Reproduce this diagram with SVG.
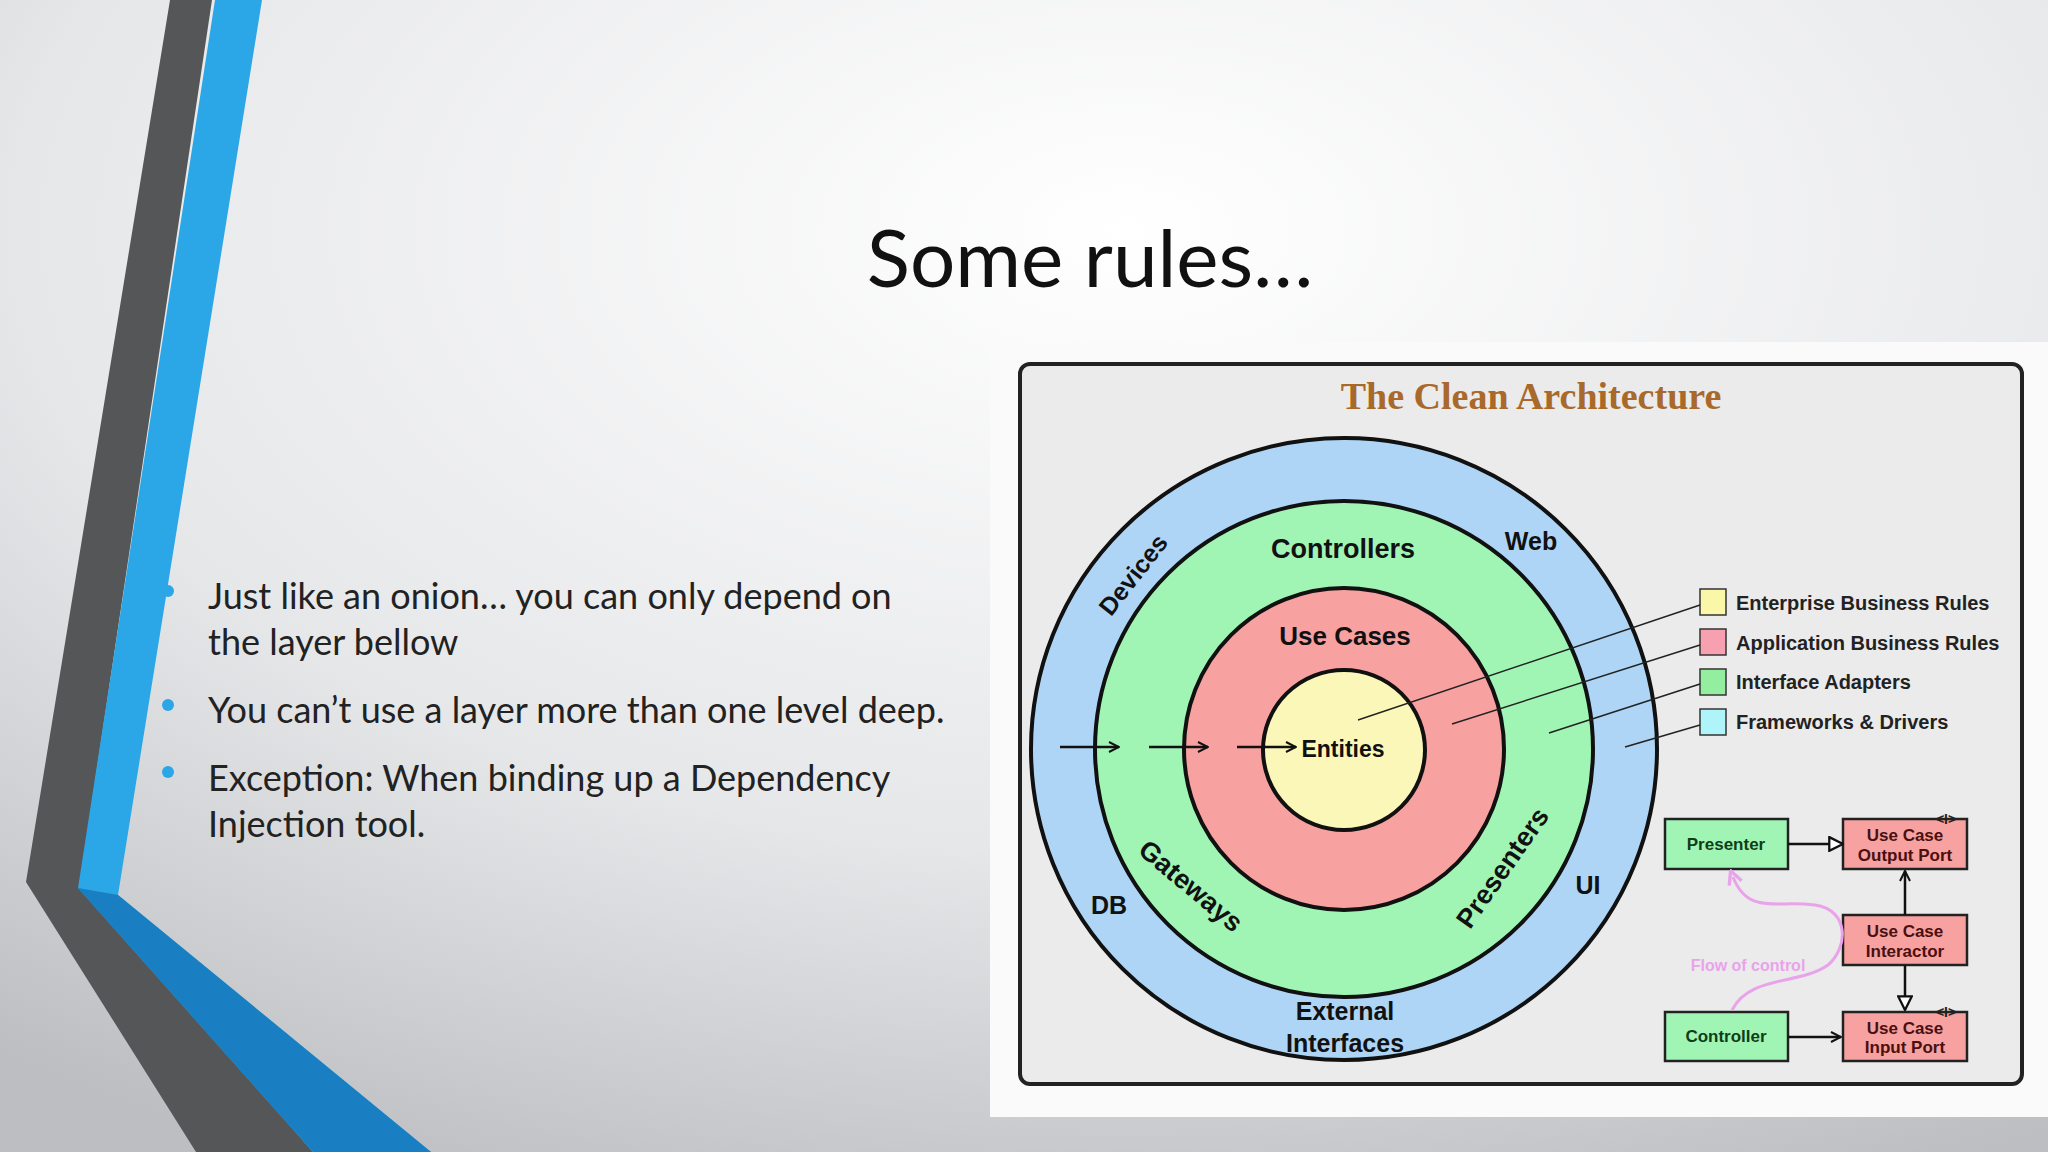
<svg xmlns="http://www.w3.org/2000/svg" width="2048" height="1152" viewBox="0 0 2048 1152">
<defs>
<radialGradient id="bg" cx="0.55" cy="0.2" r="0.9">
<stop offset="0" stop-color="#ffffff"/><stop offset="0.6" stop-color="#e6e7e9"/><stop offset="1" stop-color="#bcbec1"/>
</radialGradient>
<marker id="chev" viewBox="0 0 12 12" refX="11" refY="6" markerWidth="12" markerHeight="12" markerUnits="userSpaceOnUse" orient="auto"><path d="M1,1 L11,6 L1,11" fill="none" stroke="#111" stroke-width="2"/></marker>
<marker id="tri" viewBox="0 0 14 14" refX="13" refY="7" markerWidth="16" markerHeight="16" markerUnits="userSpaceOnUse" orient="auto"><path d="M1,1 L13,7 L1,13 Z" fill="#fff" stroke="#111" stroke-width="2"/></marker>
<marker id="pink" viewBox="0 0 12 12" refX="6" refY="6" markerWidth="16" markerHeight="16" markerUnits="userSpaceOnUse" orient="auto"><path d="M1,1 L11,6 L1,11" fill="none" stroke="#e9a3ea" stroke-width="2.5"/></marker>
<style>
.lbl{font-family:"Liberation Sans",Arial,sans-serif;font-weight:bold;fill:#111;text-anchor:middle}
.leg{font-family:"Liberation Sans",Arial,sans-serif;font-weight:bold;font-size:20px;fill:#222}
.box{stroke:#222;stroke-width:2.5}
.bt{font-family:"Liberation Sans",Arial,sans-serif;font-weight:bold;font-size:17px;text-anchor:middle}
.bul{font-family:Lato,"Open Sans",sans-serif;font-size:36px;fill:#222}
.ln{stroke:#222;stroke-width:1.5}
.ar{stroke:#111;stroke-width:2.5;fill:none}
.ifc{font-family:"Liberation Sans",sans-serif;font-size:14px;font-weight:bold;text-anchor:middle;fill:#222}
</style>
</defs>
<rect width="2048" height="1152" fill="url(#bg)"/>
<polygon points="170,0 212,0 80,882 313,1152 196,1152 26,882" fill="#555658"/>
<polygon points="215,0 262,0 118,895 431,1152 313,1152 78,888" fill="#2ba6e6"/>
<polygon points="78,888 118,895 431,1152 313,1152" fill="#1a7fc2"/>
<text x="1090" y="287" font-family="Lato,'Open Sans',sans-serif" font-size="80" fill="#111" text-anchor="middle">Some rules…</text>
<g id="bullets">
<circle cx="168" cy="591" r="6" fill="#2ba6e6"/><circle cx="168" cy="705" r="6" fill="#2ba6e6"/><circle cx="168" cy="772" r="6" fill="#2ba6e6"/>
<text class="bul" x="208" y="609">Just like an onion… you can only depend on</text>
<text class="bul" x="208" y="655">the layer bellow</text>
<text class="bul" x="208" y="723">You can’t use a layer more than one level deep.</text>
<text class="bul" x="208" y="791">Exception: When binding up a Dependency</text>
<text class="bul" x="208" y="837">Injection tool.</text>
</g>
<rect x="990" y="342" width="1058" height="775" fill="#fafafa"/>
<rect x="1020" y="364" width="1002" height="720" rx="10" fill="#ebebeb" stroke="#222" stroke-width="4"/>
<text x="1531" y="409" font-family="'Liberation Serif',serif" font-weight="bold" font-size="38" fill="#a8692a" text-anchor="middle">The Clean Architecture</text>
<g id="onion">
<ellipse cx="1344" cy="749" rx="313" ry="311" fill="#aed5f5" stroke="#111" stroke-width="4"/>
<ellipse cx="1344" cy="749" rx="249" ry="248" fill="#a1f5b4" stroke="#111" stroke-width="4"/>
<ellipse cx="1344" cy="749" rx="160" ry="161" fill="#f7a1a0" stroke="#111" stroke-width="4"/>
<ellipse cx="1344" cy="750" rx="81" ry="80" fill="#fbf7b8" stroke="#111" stroke-width="4"/>
<text class="lbl" x="1343" y="558" font-size="27">Controllers</text>
<text class="lbl" x="1345" y="645" font-size="26">Use Cases</text>
<text class="lbl" x="1343" y="757" font-size="23">Entities</text>
<text class="lbl" x="1531" y="550" font-size="25">Web</text>
<text class="lbl" x="1109" y="914" font-size="25">DB</text>
<text class="lbl" x="1588" y="894" font-size="25">UI</text>
<text class="lbl" x="1345" y="1020" font-size="25">External</text>
<text class="lbl" x="1345" y="1052" font-size="25">Interfaces</text>
<text class="lbl" font-size="25" transform="translate(1140,580) rotate(-52)">Devices</text>
<text class="lbl" font-size="27" transform="translate(1185,893) rotate(40)">Gateways</text>
<text class="lbl" font-size="27" transform="translate(1510,873) rotate(-55)">Presenters</text>
</g>
<g id="legend">
<rect x="1700" y="589" width="26" height="26" fill="#fbf7a8" stroke="#333" stroke-width="1.5"/>
<rect x="1700" y="629" width="26" height="26" fill="#f7a1b0" stroke="#333" stroke-width="1.5"/>
<rect x="1700" y="669" width="26" height="26" fill="#93eea0" stroke="#333" stroke-width="1.5"/>
<rect x="1700" y="709" width="26" height="26" fill="#aef4f8" stroke="#333" stroke-width="1.5"/>
<text class="leg" x="1736" y="610">Enterprise Business Rules</text>
<text class="leg" x="1736" y="650">Application Business Rules</text>
<text class="leg" x="1736" y="689">Interface Adapters</text>
<text class="leg" x="1736" y="729">Frameworks &amp; Drivers</text>
</g>
<g id="boxes">
<g id="presenter"><rect class="box" x="1665" y="819" width="123" height="50" fill="#a1f5b4"/><text class="bt" x="1726" y="850" fill="#0f3d18">Presenter</text></g>
<g id="outport"><rect class="box" x="1843" y="819" width="124" height="50" fill="#f7a1a0"/><text class="bt" x="1905" y="841" fill="#4a1010">Use Case</text><text class="bt" x="1905" y="861" fill="#4a1010">Output Port</text><text class="ifc" x="1946" y="824">&lt;I&gt;</text></g>
<g id="interactor"><rect class="box" x="1843" y="915" width="124" height="50" fill="#f7a1a0"/><text class="bt" x="1905" y="937" fill="#4a1010">Use Case</text><text class="bt" x="1905" y="957" fill="#4a1010">Interactor</text></g>
<g id="inport"><rect class="box" x="1843" y="1012" width="124" height="49" fill="#f7a1a0"/><text class="bt" x="1905" y="1034" fill="#4a1010">Use Case</text><text class="bt" x="1905" y="1053" fill="#4a1010">Input Port</text><text class="ifc" x="1946" y="1017">&lt;I&gt;</text></g>
<g id="controller"><rect class="box" x="1665" y="1012" width="123" height="49" fill="#a1f5b4"/><text class="bt" x="1726" y="1042" fill="#0f3d18">Controller</text></g>
</g>
<g id="connectors">
<line class="ln" x1="1700" y1="605" x2="1358" y2="720"/>
<line class="ln" x1="1700" y1="645" x2="1452" y2="724"/>
<line class="ln" x1="1700" y1="684" x2="1549" y2="733"/>
<line class="ln" x1="1700" y1="725" x2="1625" y2="747"/>
<line class="ar" x1="1060" y1="747" x2="1119" y2="747" marker-end="url(#chev)"/>
<line class="ar" x1="1149" y1="747" x2="1208" y2="747" marker-end="url(#chev)"/>
<line class="ar" x1="1237" y1="747" x2="1296" y2="747" marker-end="url(#chev)"/>
<line class="ar" x1="1788" y1="844" x2="1843" y2="844" marker-end="url(#tri)"/>
<line class="ar" x1="1905" y1="915" x2="1905" y2="871" marker-end="url(#chev)"/>
<line class="ar" x1="1905" y1="965" x2="1905" y2="1010" marker-end="url(#tri)"/>
<line class="ar" x1="1788" y1="1037" x2="1841" y2="1037" marker-end="url(#chev)"/>
<path d="M1732,1010 C1750,975 1800,985 1828,965 C1848,948 1850,910 1815,905 C1775,900 1748,915 1733,877" fill="none" stroke="#e9a3ea" stroke-width="3" marker-end="url(#pink)"/>
<text x="1748" y="971" font-family="'Liberation Sans',sans-serif" font-weight="bold" font-size="16" fill="#e9a3ea" text-anchor="middle">Flow of control</text>
</g>
</svg>
